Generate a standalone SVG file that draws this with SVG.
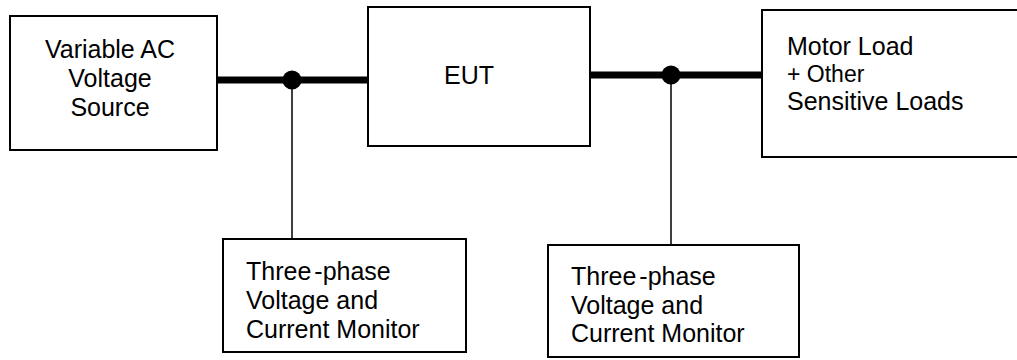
<svg xmlns="http://www.w3.org/2000/svg" width="1017" height="360" viewBox="0 0 1017 360">
<style>
.box{fill:#fff;stroke:#000;stroke-width:2}
.t{font-family:"Liberation Sans",Arial,sans-serif;font-size:25px;fill:#000}
.s{font-size:23px}
.bus{stroke:#000;stroke-width:7;fill:none}
.tap{stroke:#000;stroke-width:1.5;fill:none}
</style>
<rect width="1017" height="360" fill="#fff"/>
<g id="connectors">
<line class="bus" x1="217" y1="80" x2="368" y2="80"/>
<line class="bus" x1="590" y1="75" x2="762" y2="75"/>
<line class="tap" x1="292" y1="80" x2="292" y2="239"/>
<line class="tap" x1="671" y1="75" x2="671" y2="245"/>
<circle cx="292" cy="80" r="9.5" fill="#000"/>
<circle cx="671" cy="75" r="9.5" fill="#000"/>
</g>
<g id="source">
<rect class="box" x="10" y="16" width="207" height="134"/>
<text class="t" text-anchor="middle" x="110" y="58">Variable AC</text>
<text class="t" text-anchor="middle" x="110" y="87">Voltage</text>
<text class="t" text-anchor="middle" x="110" y="116">Source</text>
</g>
<g id="eut">
<rect class="box" x="368" y="7" width="222" height="139"/>
<text class="t" text-anchor="middle" x="469" y="84">EUT</text>
</g>
<g id="load">
<rect class="box" x="762" y="10" width="270" height="147"/>
<text class="t" x="787" y="55">Motor Load</text>
<text class="t s" x="787" y="82">+ Other</text>
<text class="t" x="787" y="110">Sensitive Loads</text>
</g>
<g id="monitor1">
<rect class="box" x="223" y="239" width="243" height="113"/>
<text class="t" x="246" y="280">Three<tspan dx="3">-</tspan>phase</text>
<text class="t" x="246" y="309">Voltage and</text>
<text class="t" x="246" y="338">Current Monitor</text>
</g>
<g id="monitor2">
<rect class="box" x="548" y="245" width="251" height="112"/>
<text class="t" x="571" y="285">Three<tspan dx="3">-</tspan>phase</text>
<text class="t" x="571" y="314">Voltage and</text>
<text class="t" x="571" y="342">Current Monitor</text>
</g>
</svg>
